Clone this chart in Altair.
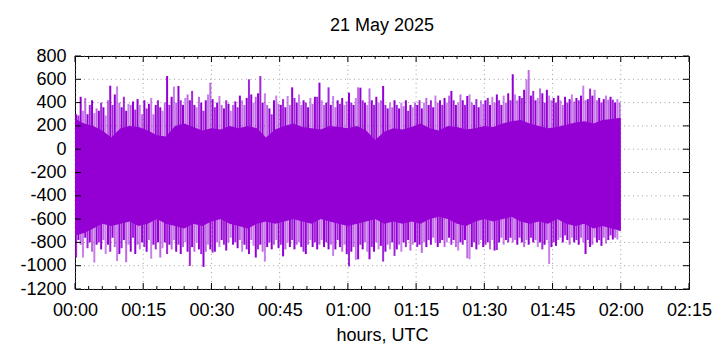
import altair as alt
import pandas as pd

# ---------------- data ----------------
chart_title = "21 May 2025"
x_title = "hours, UTC"
x_tick_minutes = [0, 15, 30, 45, 60, 75, 90, 105, 120, 135]
y_tick_values = [-1200, -1000, -800, -600, -400, -200, 0, 200, 400, 600, 800]

# upper extreme of the signal in each half-minute (00:00 .. 02:00)
spike_hi = [
    300, 290, 450, 330, 440, 300, 380, 420, 310, 350,
    330, 400, 360, 290, 420, 545, 380, 470, 540, 400,
    360, 450, 330, 390, 380, 410, 340, 430, 380, 300,
    420, 350, 390, 440, 300, 380, 420, 360, 330, 400,
    628, 380, 450, 537, 400, 543, 420, 380, 440, 470,
    420, 500, 380, 360, 450, 400, 330, 420, 470, 571,
    430, 360, 400, 457, 380, 350, 420, 390, 330, 380,
    410, 360, 460, 420, 380, 440, 600, 470, 400, 450,
    480, 628, 400, 480, 380, 350, 300, 420, 460, 390,
    380, 430, 360, 457, 380, 531, 440, 400, 470, 380,
    420, 400, 360, 440, 390, 450, 450, 571, 420, 380,
    400, 531, 380, 457, 360, 420, 390, 440, 380, 410,
    485, 400, 380, 440, 531, 528, 420, 400, 380, 522,
    420, 380, 450, 400, 420, 543, 380, 350, 400, 360,
    420, 380, 350, 400, 370, 420, 330, 380, 360, 400,
    380, 420, 350, 400, 440, 380, 420, 360, 460, 400,
    420, 380, 440, 400, 460, 500, 420, 380, 400, 470,
    420, 380, 457, 470, 400, 380, 430, 360, 420, 390,
    420, 440, 380, 450, 400, 470, 420, 380, 460, 400,
    480, 420, 643, 470, 420, 457, 440, 510, 600, 680,
    460, 500, 420, 440, 522, 480, 400, 510, 460, 420,
    440, 400, 460, 420, 380, 450, 400, 430, 470, 410,
    440, 420, 460, 545, 420, 430, 520, 460, 510, 420,
    440, 400, 430, 460, 425, 450, 425, 400, 430, 400,
]

# lower extreme of the signal in each half-minute
spike_lo = [
    -930, -780, -820, -930, -760, -850, -800, -880, -973, -820,
    -800, -860, -780, -900, -820, -880, -760, -840, -960, -900,
    -850, -780, -970, -820, -880, -760, -900, -820, -860, -800,
    -840, -880, -780, -940, -820, -860, -800, -930, -850, -800,
    -900, -820, -860, -780, -880, -820, -900, -840, -800, -880,
    -1002, -840, -880, -800, -860, -900, -1010, -880, -820, -860,
    -888, -880, -800, -840, -780, -820, -870, -800, -760, -820,
    -800, -850, -780, -880, -820, -860, -900, -780, -830, -930,
    -860, -820, -880, -965, -840, -800, -860, -820, -780, -850,
    -820, -920, -860, -800, -840, -780, -860, -820, -800, -840,
    -880, -900, -820, -780, -840, -800, -860, -820, -780, -840,
    -800, -860, -820, -916, -860, -780, -840, -880, -820, -900,
    -1006, -880, -840, -950, -945, -820, -860, -800, -880, -945,
    -840, -880, -800, -860, -830, -965, -880, -820, -860, -800,
    -916, -860, -820, -880, -800, -840, -780, -870, -820, -800,
    -840, -820, -890, -800, -840, -780, -820, -760, -800, -840,
    -806, -780, -840, -800, -760, -820, -780, -840, -870, -800,
    -820, -780, -936, -945, -840, -800, -860, -820, -780, -840,
    -820, -800, -860, -780, -870, -865, -800, -760, -820, -780,
    -800, -760, -800, -780, -820, -760, -800, -840, -780, -820,
    -760, -800, -780, -840, -800, -860, -820, -780, -985, -840,
    -800, -830, -780, -760, -800, -740, -780, -820, -760, -800,
    -780, -820, -760, -800, -900, -780, -840, -820, -760, -800,
    -780, -830, -760, -810, -780, -740, -775, -760, -775, -700,
]

# dense core of the signal, every 2 minutes (00:00 .. 02:00)
core_minutes = list(range(0, 121, 2))
core_hi = [
    260, 220, 200, 160, 100, 180, 200, 190, 160, 120,
    110, 200, 220, 190, 160, 180, 170, 200, 180, 200,
    180, 100, 170, 200, 220, 190, 180, 170, 200, 190,
    180, 200, 160, 80, 150, 180, 170, 190, 220, 180,
    160, 200, 190, 170, 180, 200, 190, 220, 240, 250,
    220, 200, 180, 190, 210, 230, 240, 220, 250, 260, 270,
]
core_lo = [
    -740, -720, -680, -640, -660, -640, -620, -660, -640, -600,
    -640, -660, -680, -640, -660, -620, -600, -640, -660, -680,
    -640, -620, -640, -620, -600, -620, -640, -600, -620, -640,
    -660, -640, -620, -600, -640, -620, -640, -620, -640, -600,
    -580, -600, -640, -660, -620, -600, -620, -600, -580, -620,
    -640, -620, -640, -600, -640, -660, -640, -680, -660, -680, -700,
]
signal_centre = -200

# ---------------- tables ----------------
n = len(spike_hi)
spikes = pd.DataFrame({
    "i": list(range(n)),
    "t": [k * 0.5 + 0.25 for k in range(n)],
    "hi": spike_hi,
    "lo": spike_lo,
})
core = pd.DataFrame({"t": core_minutes, "hi": core_hi, "lo": core_lo})
minor_minutes = [m for m in range(0, 136, 3) if m % 15 != 0]
xgrid = pd.DataFrame({"v": x_tick_minutes})
xminor = pd.DataFrame({"v": minor_minutes})
ygrid = pd.DataFrame({"v": y_tick_values})

W, H = 614, 233
FONT = "Liberation Sans"
PURPLE = "#9400d3"

xs = alt.Scale(domain=[0, 135], nice=False, zero=False)
ys = alt.Scale(domain=[-1200, 800], nice=False, zero=False)

label_expr = ("(floor(datum.value/60) < 10 ? '0' : '') + floor(datum.value/60) + ':' + "
              "(datum.value % 60 < 10 ? '0' : '') + (datum.value % 60)")

x_axis = alt.Axis(values=x_tick_minutes, labelExpr=label_expr, grid=False, ticks=False,
                  tickSize=0, domain=False, labelPadding=12, labelFont=FONT, labelFontSize=18,
                  labelColor="black", title=x_title, titleFont=FONT, titleFontSize=18,
                  titleFontWeight="normal", titleColor="black", titlePadding=7,
                  labelFlush=False, labelOverlap=False)
y_axis = alt.Axis(values=y_tick_values, labelExpr="'' + datum.value", grid=False, ticks=False,
                  tickSize=0, domain=False, labelPadding=9, labelFont=FONT, labelFontSize=18,
                  labelColor="black", title=None, labelFlush=False, labelOverlap=False)

X = lambda f: alt.X(f, scale=xs, axis=x_axis)
Y = lambda f: alt.Y(f, scale=ys, axis=y_axis)

grid_x = alt.Chart(xgrid).mark_rule(color="#a0a0a0", strokeDash=[1, 3.5], strokeWidth=1).encode(
    x=X("v:Q"), y=alt.value(0), y2=alt.value(H))
grid_y = alt.Chart(ygrid).mark_rule(color="#a0a0a0", strokeDash=[1, 3.5], strokeWidth=1).encode(
    y=Y("v:Q"), x=alt.value(0), x2=alt.value(W))

core_area = alt.Chart(core).mark_area(color=PURPLE, opacity=1).encode(
    x=X("t:Q"), y=Y("hi:Q"), y2="lo:Q")

# irregular alternation of dark and light strokes, as the anti-aliased trace shows
shade = "[1, 0.5, 0.85, 0.6, 1][{k}]"
upper = alt.Chart(spikes).transform_calculate(
    mid=str(signal_centre),
    op=shade.format(k="(datum.i * 7) % 5"),
).mark_rule(color=PURPLE, strokeWidth=2.0).encode(
    x=X("t:Q"), y=Y("hi:Q"), y2="mid:Q",
    opacity=alt.Opacity("op:Q", scale=None, legend=None),
)
lower = alt.Chart(spikes).transform_calculate(
    mid=str(signal_centre),
    op=shade.format(k="(datum.i * 3 + 2) % 5"),
).mark_rule(color=PURPLE, strokeWidth=2.0).encode(
    x=X("t:Q"), y=Y("lo:Q"), y2="mid:Q",
    opacity=alt.Opacity("op:Q", scale=None, legend=None),
)

def xticks(df, y1, y2):
    return alt.Chart(df).mark_rule(color="black", strokeWidth=1).encode(
        x=X("v:Q"), y=alt.value(y1), y2=alt.value(y2))

def yticks(df, x1, x2):
    return alt.Chart(df).mark_rule(color="black", strokeWidth=1).encode(
        y=Y("v:Q"), x=alt.value(x1), x2=alt.value(x2))

ticks = [
    xticks(xgrid, H, H - 6), xticks(xgrid, 0, 6),
    xticks(xminor, H, H - 3), xticks(xminor, 0, 3),
    yticks(ygrid, 0, 6), yticks(ygrid, W, W - 6),
]

chart = alt.layer(grid_x, grid_y, upper, lower, core_area, *ticks).properties(
    width=W, height=H,
    autosize=alt.AutoSizeParams(type="none"),
    padding={"left": 67, "top": 48, "right": 23, "bottom": 58},
    title=alt.Title(chart_title, font=FONT, fontSize=18, fontWeight="normal",
                    color="black", anchor="middle", offset=12),
).configure_view(stroke="black", strokeWidth=1)

chart.save("out.html", embed_options={"renderer": "svg", "actions": False})
